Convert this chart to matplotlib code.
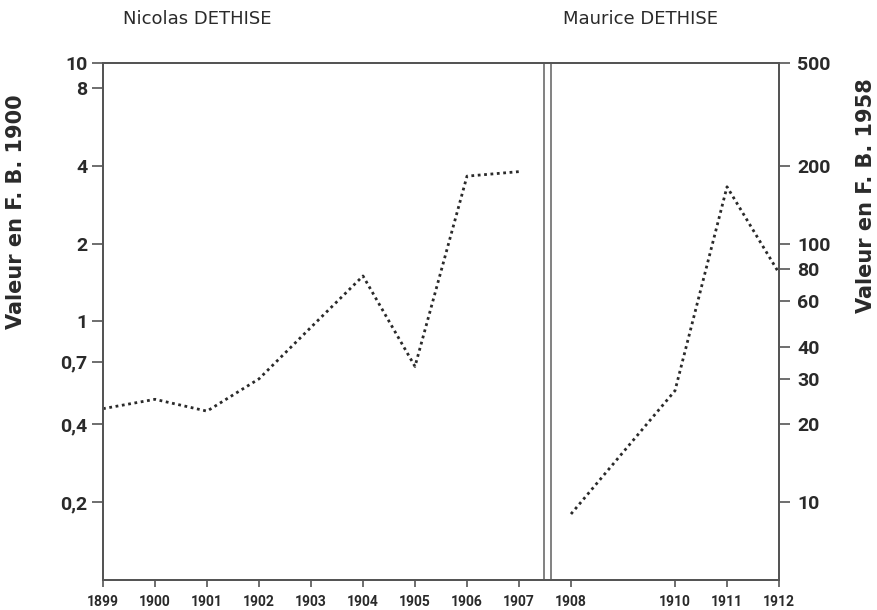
import matplotlib
matplotlib.use("Agg")
import matplotlib.pyplot as plt
from matplotlib.ticker import FixedLocator, FixedFormatter, NullLocator

# Data
years_nicolas = [1899, 1900, 1901, 1902, 1903, 1904, 1905, 1906, 1907]
values_nicolas = [0.46, 0.50, 0.45, 0.60, 0.95, 1.50, 0.67, 3.65, 3.80]
years_maurice = [1908, 1910, 1911, 1912]
values_maurice = [9.0, 27.0, 166.0, 77.0]

left_ticks = [10, 8, 4, 2, 1, 0.7, 0.4, 0.2]
left_labels = ["10", "8", "4", "2", "1", "0,7", "0,4", "0,2"]
right_ticks = [500, 200, 100, 80, 60, 40, 30, 20, 10]
right_labels = ["500", "200", "100", "80", "60", "40", "30", "20", "10"]
x_ticks = [1899, 1900, 1901, 1902, 1903, 1904, 1905, 1906, 1907, 1908, 1910, 1911, 1912]
x_labels = [str(y) for y in x_ticks]

ink = "#2a2a2a"
line_col = "#555555"
tickfont = ["Roboto", "DejaVu Sans"]

fig = plt.figure(figsize=(8.78, 6.10), dpi=100)
ax = fig.add_axes([103 / 878, 1 - 580 / 610, (779 - 103) / 878, (580 - 63) / 610])
ax2 = ax.twinx()

ax.set_yscale("log")
ax.set_ylim(0.1, 10)
ax2.set_yscale("log")
ax2.set_ylim(5, 500)
ax.set_xlim(1899, 1912)

ax.plot(years_nicolas, values_nicolas, linestyle=(0, (1, 1.3)), color=ink, lw=2.0)
ax2.plot(years_maurice, values_maurice, linestyle=(0, (1, 1.3)), color=ink, lw=2.0)

# double separator line
for xv in (1907.49, 1907.61):
    ax.axvline(xv, color="#777777", lw=1.3)

for spine in ["left", "right", "top", "bottom"]:
    for a in (ax, ax2):
        a.spines[spine].set_color(line_col)
        a.spines[spine].set_linewidth(1.4)

ax.yaxis.set_major_locator(FixedLocator(left_ticks))
ax.yaxis.set_major_formatter(FixedFormatter(left_labels))
ax.yaxis.set_minor_locator(NullLocator())
ax2.yaxis.set_major_locator(FixedLocator(right_ticks))
ax2.yaxis.set_major_formatter(FixedFormatter(right_labels))
ax2.yaxis.set_minor_locator(NullLocator())
ax.set_xticks(x_ticks)
ax.set_xticklabels(x_labels)

ax.tick_params(axis="y", direction="out", length=8, width=1.2, color=line_col,
               labelsize=14, labelcolor=ink, pad=3)
ax2.tick_params(axis="y", direction="out", length=8, width=1.2, color=line_col,
                labelsize=14, labelcolor=ink, pad=5)
ax.tick_params(axis="x", direction="out", length=5, width=1.2, color=line_col,
               labelsize=10, labelcolor=ink, pad=6)
for lab in ax.get_xticklabels():
    lab.set_fontweight("bold")
    lab.set_family(tickfont)
for lab in ax.get_yticklabels() + ax2.get_yticklabels():
    lab.set_fontweight("bold")
    lab.set_family(tickfont)

fig.text(16 / 878, 1 - 212 / 610, "Valeur en F. B. 1900", rotation=90,
         ha="center", va="center", fontsize=15, color=ink, fontweight="bold")
fig.text(866 / 878, 1 - 196 / 610, "Valeur en F. B. 1958", rotation=90,
         ha="center", va="center", fontsize=15, color=ink, fontweight="bold")

fig.text(197 / 878, 1 - 19 / 610, "Nicolas DETHISE", ha="center", va="center",
         fontsize=13, color=ink)
fig.text(641 / 878, 1 - 19 / 610, "Maurice DETHISE", ha="center", va="center",
         fontsize=13, color=ink)

fig.savefig("out.png", dpi=100, facecolor="white")
